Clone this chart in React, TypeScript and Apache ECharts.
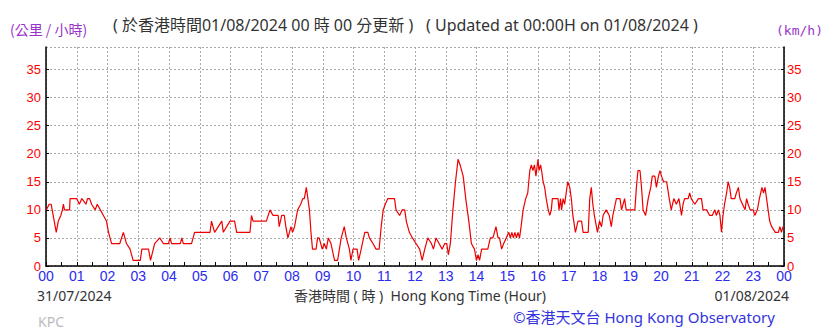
import React, { useEffect, useRef } from "react";
import * as echarts from "echarts";

// time of reading, minutes after 00:00 (31/07/2024)
const minutes: number[] = [
  1, 6, 10, 14, 20, 24, 29, 32, 34, 36, 46, 47, 60, 65, 70, 78, 81, 85, 89, 96,
  100, 106, 112, 118, 122, 128, 144, 151, 157, 164, 170, 184, 187, 200, 204, 212, 222, 229, 239, 242,
  245, 262, 265, 268, 284, 287, 290, 320, 323, 329, 343, 346, 359, 368, 372, 398, 401, 404, 430, 437,
  443, 453, 455, 460, 465, 468, 472, 475, 478, 481, 485, 491, 497, 501, 504, 508, 511, 514, 517, 520,
  527, 530, 533, 539, 543, 547, 551, 556, 563, 569, 576, 582, 586, 592, 595, 599, 602, 607, 610, 615,
  622, 628, 631, 638, 644, 650, 654, 658, 662, 667, 680, 683, 690, 695, 700, 703, 709, 715, 722, 729,
  734, 739, 745, 752, 756, 761, 767, 773, 778, 782, 785, 789, 794, 799, 804, 808, 814, 819, 825, 830,
  836, 840, 843, 846, 850, 862, 867, 872, 875, 878, 882, 885, 889, 893, 898, 903, 906, 909, 912, 915,
  918, 921, 924, 927, 931, 936, 940, 944, 947, 950, 953, 956, 960, 962, 965, 967, 970, 973, 976, 980,
  983, 986, 988, 999, 1001, 1004, 1006, 1009, 1012, 1015, 1018, 1022, 1025, 1028, 1033, 1038, 1045, 1048, 1058, 1061,
  1064, 1067, 1070, 1076, 1080, 1084, 1087, 1093, 1099, 1103, 1106, 1113, 1120, 1123, 1129, 1132, 1149, 1152, 1155, 1159,
  1162, 1165, 1170, 1175, 1180, 1183, 1188, 1191, 1195, 1198, 1201, 1205, 1211, 1216, 1220, 1225, 1230, 1235, 1240, 1243,
  1246, 1253, 1256, 1259, 1266, 1273, 1279, 1282, 1289, 1295, 1300, 1305, 1308, 1312, 1315, 1318, 1321, 1324, 1328, 1331,
  1334, 1337, 1344, 1347, 1351, 1354, 1359, 1364, 1367, 1370, 1374, 1380, 1383, 1388, 1392, 1397, 1400, 1403, 1406, 1409,
  1412, 1416, 1423, 1429, 1432, 1435, 1438,
];

// 10-minute mean wind speed (km/h)
const speeds: number[] = [
  10, 11, 11, 9, 6, 8, 9, 10, 11, 10, 10, 12, 12, 11, 12, 11, 12, 12, 11, 10,
  11, 10, 9, 8, 6, 4, 4, 6, 4, 3, 1, 1, 3, 3, 1, 4, 5, 4, 4, 5,
  4, 4, 5, 4, 4, 5, 6, 6, 8, 6, 8, 6, 8, 8, 6, 6, 9, 8, 8, 10,
  9, 9, 7, 9, 9, 7, 5, 6, 7, 6, 7, 10, 11, 12, 12, 14, 12, 10, 6, 3,
  3, 5, 5, 3, 4, 3, 5, 4, 1, 1, 5, 7, 5, 3, 1, 3, 3, 3, 1, 3,
  6, 6, 5, 4, 3, 3, 7, 10, 11, 12, 12, 10, 9, 10, 10, 8, 6, 5, 4, 3,
  1, 3, 5, 4, 3, 5, 4, 3, 4, 4, 2, 4, 10, 15, 19, 18, 16, 12, 8, 4,
  3, 1, 2, 1, 3, 3, 5, 5, 6, 7, 5, 5, 3, 4, 5, 6, 5, 6, 5, 6,
  5, 6, 5, 7, 10, 12, 13, 17, 18, 17, 18, 16, 19, 17, 18, 17, 15, 14, 12, 10,
  9, 10, 12, 12, 10, 12, 10, 12, 11, 13, 15, 14, 12, 9, 6, 8, 8, 6, 6, 12,
  14, 11, 9, 6, 8, 7, 9, 10, 9, 7, 9, 12, 12, 10, 12, 10, 10, 14, 17, 17,
  14, 10, 9, 12, 14, 16, 16, 14, 16, 17, 16, 15, 15, 12, 10, 12, 11, 12, 9, 11,
  12, 12, 13, 12, 11, 12, 12, 10, 10, 9, 9, 10, 9, 10, 9, 6, 9, 11, 13, 15,
  14, 12, 12, 13, 14, 12, 11, 10, 12, 11, 10, 10, 9, 10, 12, 14, 13, 14, 12, 10,
  8, 7, 6, 6, 7, 6, 7,
];

const hourLabels: string[] = [
  "00", "01", "02", "03", "04", "05", "06", "07", "08", "09", "10", "11",
  "12", "13", "14", "15", "16", "17", "18", "19", "20", "21", "22", "23", "00",
];

const yTicks: number[] = [0, 5, 10, 15, 20, 25, 30, 35];

const LATIN = '"Noto Sans", "Noto Sans CJK TC", sans-serif';
const PURPLE = "#9933cc";
const BLUE = "#2a2af0";
const GRID = "#a8a8a8";

export default function App() {
  const ref = useRef<HTMLDivElement>(null);

  useEffect(() => {
    if (!ref.current) return;
    const chart = echarts.init(ref.current, undefined, { renderer: "svg" });
    const data = minutes.map((m, i) => [m / 60, speeds[i]]);

    const yAxisCommon = {
      type: "value" as const,
      min: 0,
      max: 39,
      interval: 5,
      axisLine: { show: true, lineStyle: { color: "#000", width: 1.5 } },
      axisTick: { show: true, inside: true, length: 3, lineStyle: { color: "#000" } },
      axisLabel: {
        color: "#ff0000",
        fontSize: 13,
        fontFamily: '"Liberation Sans", sans-serif',
        formatter: (v: number) => (yTicks.includes(v) ? String(v) : ""),
        showMaxLabel: false,
      },
    };

    chart.setOption({
      animation: false,
      backgroundColor: "#ffffff",
      grid: { left: 46, right: 52, top: 47, bottom: 65, containLabel: false },
      xAxis: {
        type: "value",
        min: 0,
        max: 24,
        interval: 1,
        axisLine: { show: true, lineStyle: { color: "#000", width: 1.5 } },
        axisTick: { show: true, inside: true, length: 4, lineStyle: { color: "#000" } },
        minorTick: { show: true, splitNumber: 2, length: 4, lineStyle: { color: "#000" } },
        axisLabel: {
          color: BLUE,
          fontSize: 14,
          margin: 3,
          fontFamily: '"Liberation Sans", sans-serif',
          formatter: (v: number) => hourLabels[Math.round(v)] ?? "",
        },
        splitLine: { show: true, lineStyle: { color: GRID, type: [2, 2], width: 1 } },
      },
      yAxis: [
        {
          ...yAxisCommon,
          position: "left",
          axisLabel: { ...yAxisCommon.axisLabel, margin: 5 },
          splitLine: { show: true, lineStyle: { color: GRID, type: [2, 2], width: 1 } },
        },
        {
          ...yAxisCommon,
          position: "right",
          axisLabel: { ...yAxisCommon.axisLabel, margin: 3 },
          splitLine: { show: false },
        },
      ],
      series: [
        {
          type: "line",
          data,
          showSymbol: false,
          symbol: "none",
          lineStyle: { color: "#ee0000", width: 1.2 },
          z: 5,
        },
      ],
      graphic: [
        {
          type: "text",
          style: { x: 10, y: 29, text: "(公里 / 小時)", fill: PURPLE, font: `14px "Noto Sans CJK TC", sans-serif`, verticalAlign: "middle" },
        },
        {
          type: "text",
          style: { x: 113, y: 25, text: "( 於香港時間01/08/2024 00 時 00 分更新 )", fill: "#333", font: `16px ${LATIN}`, verticalAlign: "middle" },
        },
        {
          type: "text",
          style: { x: 426, y: 25, text: "( Updated at 00:00H on 01/08/2024 )", fill: "#333", font: `16px ${LATIN}`, verticalAlign: "middle" },
        },
        {
          type: "text",
          style: { x: 776, y: 30, text: "(km/h)", fill: PURPLE, font: `13px "DejaVu Sans Mono", "Liberation Mono", monospace`, verticalAlign: "middle" },
        },
        {
          type: "text",
          style: { x: 37, y: 295, text: "31/07/2024", fill: "#333", font: `14px ${LATIN}`, verticalAlign: "middle" },
        },
        {
          type: "text",
          style: { x: 420, y: 295, text: "香港時間 ( 時 )  Hong Kong Time (Hour)", fill: "#333", font: `14px ${LATIN}`, align: "center", verticalAlign: "middle" },
        },
        {
          type: "text",
          style: { x: 789, y: 295, text: "01/08/2024", fill: "#333", font: `14px ${LATIN}`, align: "right", verticalAlign: "middle" },
        },
        {
          type: "text",
          style: { x: 38, y: 321, text: "KPC", fill: "#bbbbbb", font: `14px ${LATIN}`, verticalAlign: "middle" },
        },
        {
          type: "text",
          style: { x: 513, y: 317, text: "©香港天文台 Hong Kong Observatory", fill: "#3333dd", font: `15px ${LATIN}`, verticalAlign: "middle" },
        },
      ],
    });

    return () => chart.dispose();
  }, []);

  return (
    <div
      ref={ref}
      style={{ position: "absolute", left: 0, top: 0, width: 836, height: 331 }}
    />
  );
}
